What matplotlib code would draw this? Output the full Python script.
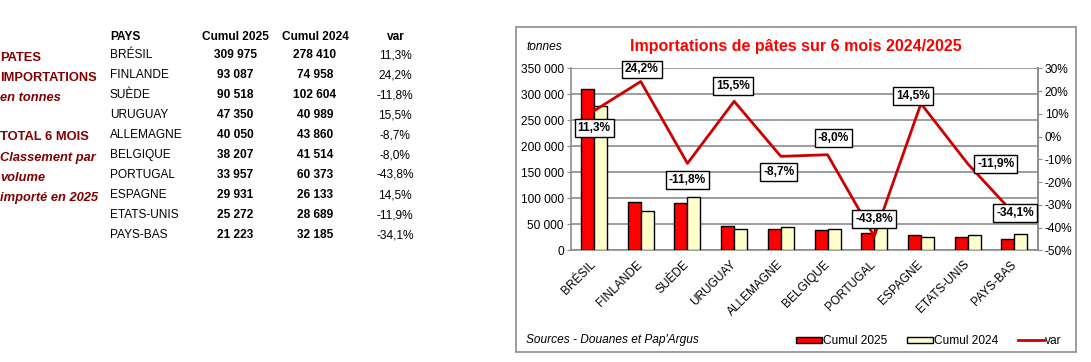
import numpy as np
import matplotlib.pyplot as plt
from matplotlib.patches import Rectangle
from matplotlib.ticker import FuncFormatter

plt.rcParams['font.family'] = ['Liberation Sans', 'DejaVu Sans']

#
# Data
#
pays = ['BRÉSIL', 'FINLANDE', 'SUÈDE', 'URUGUAY', 'ALLEMAGNE', 'BELGIQUE',
        'PORTUGAL', 'ESPAGNE', 'ETATS-UNIS', 'PAYS-BAS']
cumul2025 = [309975, 93087, 90518, 47350, 40050, 38207, 33957, 29931, 25272, 21223]
cumul2024 = [278410, 74958, 102604, 40989, 43860, 41514, 60373, 26133, 28689, 32185]
var = [11.3, 24.2, -11.8, 15.5, -8.7, -8.0, -43.8, 14.5, -11.9, -34.1]

side_labels = [('PATES', 'normal'), ('IMPORTATIONS', 'normal'), ('en tonnes', 'italic'),
               ('TOTAL 6 MOIS', 'normal'), ('Classement par', 'italic'),
               ('volume', 'italic'), ('importé en 2025', 'italic')]

W, H = 1091, 362
fig = plt.figure(figsize=(W / 100, H / 100), dpi=100)


def fx(px):
    return px / W


def fy(py):
    return 1 - py / H


def fmt_int(v):
    return f'{int(v):,}'.replace(',', ' ')


def fmt_pct(v):
    return f'{v:.1f}%'.replace('.', ',')


#
# Left table
#
dark_red = '#800000'
side_y = [58, 78, 98, 137, 158, 178, 198]
for (txt, style), y in zip(side_labels, side_y):
    fig.text(fx(0), fy(y), txt, color=dark_red, fontsize=9.3, fontweight='bold',
             style=style, ha='left', va='center')

fs = 8.6
fig.text(fx(110), fy(37), 'PAYS', fontsize=fs, fontweight='bold', va='center')
fig.text(fx(235), fy(37), 'Cumul 2025', fontsize=fs, fontweight='bold', ha='center', va='center')
fig.text(fx(315), fy(37), 'Cumul 2024', fontsize=fs, fontweight='bold', ha='center', va='center')
fig.text(fx(396), fy(37), 'var', fontsize=fs, fontweight='bold', ha='center', va='center')
for i in range(len(pays)):
    y = fy(55 + 20 * i)
    fig.text(fx(110), y, pays[i], fontsize=fs, va='center')
    fig.text(fx(235), y, fmt_int(cumul2025[i]), fontsize=fs, fontweight='bold', ha='center', va='center')
    fig.text(fx(315), y, fmt_int(cumul2024[i]), fontsize=fs, fontweight='bold', ha='center', va='center')
    fig.text(fx(395), y, fmt_pct(var[i]), fontsize=fs, ha='center', va='center')

#
# Chart
#
grey = '#8c8c8c'
fig.patches.append(Rectangle((fx(515.5), fy(352)), fx(1076) - fx(515.5), fy(26.5) - fy(352),
                             transform=fig.transFigure, fill=False, edgecolor=grey, lw=1.2))

ax1 = fig.add_axes([fx(570.7), fy(250.3), fx(1037.7) - fx(570.7), fy(68.3) - fy(250.3)])
x = np.arange(len(pays))
width = 0.278
ax1.grid(axis='y', color=grey, lw=1.2, zorder=0)
ax1.bar(x - width / 2, cumul2025, width, color='#ff0000', edgecolor='black', lw=1,
        label='Cumul 2025', zorder=3)
ax1.bar(x + width / 2, cumul2024, width, color='#ffffcc', edgecolor='black', lw=1,
        label='Cumul 2024', zorder=3)
ax1.set_xlim(-0.5, len(pays) - 0.5)
ax1.set_ylim(0, 350000)
ax1.set_yticks(np.arange(0, 350001, 50000))
ax1.yaxis.set_major_formatter(FuncFormatter(lambda v, p: fmt_int(v)))
ax1.set_xticks(x)
ax1.set_xticklabels(pays, rotation=45, ha='right', va='center', rotation_mode='anchor', fontsize=fs)
ax1.tick_params(axis='x', length=0, pad=9)
ax1.tick_params(axis='y', length=3, color=grey, labelsize=fs, pad=2)
ax1.spines['top'].set_visible(False)
for s in ['left', 'bottom', 'right']:
    ax1.spines[s].set_color(grey)
    ax1.spines[s].set_linewidth(1.2)

ax2 = ax1.twinx()
ax2.plot(x, var, color='#cc0000', lw=2, label='var', zorder=4)
ax2.set_ylim(-50, 30)
ax2.set_yticks(np.arange(-50, 31, 10))
ax2.yaxis.set_major_formatter(FuncFormatter(lambda v, p: f'{v:.0f}%'))
ax2.tick_params(axis='y', length=3, color=grey, labelsize=fs, pad=2)
for s in ['top', 'left', 'bottom']:
    ax2.spines[s].set_visible(False)
ax2.spines['right'].set_color(grey)
ax2.spines['right'].set_linewidth(1.2)

# data label offsets in pixels (x right, y up)
offsets = [(0, -17), (1, 12), (0, -17), (-1, 15), (-2, -16), (6, 17), (0, 17), (-8, 8), (28, 0), (1, 1)]
for i, v in enumerate(var):
    ax2.annotate(fmt_pct(v), (x[i], v), xytext=offsets[i], textcoords='offset pixels',
                 ha='center', va='center', fontsize=fs, fontweight='bold', zorder=6,
                 bbox=dict(boxstyle='square,pad=0.25', fc='white', ec='black', lw=1))

fig.text(fx(526), fy(46.7), 'tonnes', fontsize=fs, style='italic', va='center')
fig.text(fx(796), fy(46.7), 'Importations de pâtes sur 6 mois 2024/2025', fontsize=11.5,
         fontweight='bold', color='#ff0000', ha='center', va='center')
fig.text(fx(525.5), fy(339.5), "Sources - Douanes et Pap'Argus", fontsize=fs, style='italic', va='center')

h1, l1 = ax1.get_legend_handles_labels()
h2, l2 = ax2.get_legend_handles_labels()
fig.legend(h1 + h2, l1 + l2, loc='center left', bbox_to_anchor=(fx(796), fy(341)), ncol=3,
           frameon=False, fontsize=fs, handlelength=2.2, handleheight=0.45,
           handletextpad=0.1, columnspacing=1.6, borderpad=0, borderaxespad=0)

plt.savefig('out.png', dpi=100)
